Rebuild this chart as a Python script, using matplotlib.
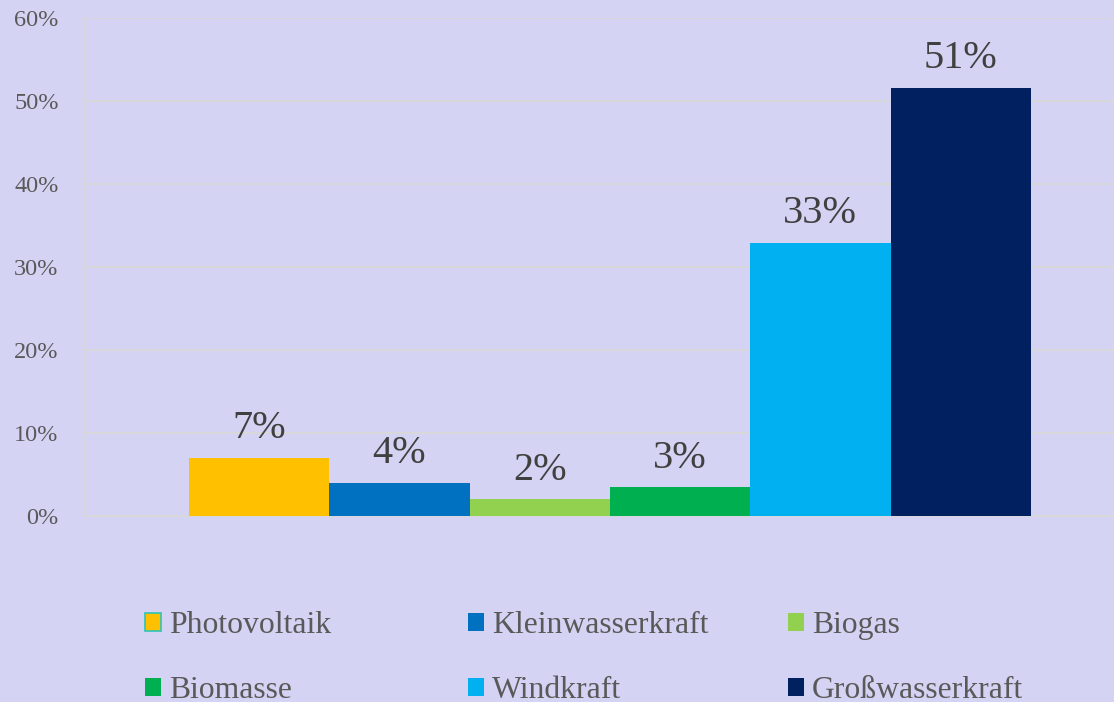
import matplotlib.pyplot as plt
from matplotlib.patches import Patch
from matplotlib.ticker import PercentFormatter

# data
categories = ['Photovoltaik', 'Kleinwasserkraft', 'Biogas',
              'Biomasse', 'Windkraft', 'Großwasserkraft']
shares = [7.0, 4.0, 2.0, 3.5, 32.9, 51.6]
labels = ['7%', '4%', '2%', '3%', '33%', '51%']
colors = ['#FFC000', '#0070C0', '#92D050', '#00B050', '#00B0F0', '#002060']
y_ticks = [0, 10, 20, 30, 40, 50, 60]

BG = '#D4D3F3'
GRID = '#D9D9D9'
FONT = 'Liberation Serif'

plt.rcParams['font.family'] = [FONT, 'DejaVu Serif']

W, H = 1114, 702
fig = plt.figure(figsize=(W / 100, H / 100), dpi=100, facecolor=BG)
ax = fig.add_axes([85 / W, (H - 516) / H, (W - 85) / W, (516 - 18) / H])
ax.set_facecolor(BG)

x = list(range(len(categories)))
bars = ax.bar(x, shares, width=1.0, color=colors, zorder=3, linewidth=0)

for b, lab in zip(bars, labels):
    ax.annotate(lab, (b.get_x() + b.get_width() / 2, b.get_height()),
                xytext=(0, 14), textcoords='offset points',
                ha='center', va='baseline', fontsize=29, color='#404040')

# px per bar ~140.3, first bar starts at x=189px
scale = 140.3
ax.set_xlim(-0.5 - (189 - 85) / scale, -0.5 + (W - 189) / scale)
ax.set_ylim(0, 60)
ax.set_yticks(y_ticks)
ax.yaxis.set_major_formatter(PercentFormatter(decimals=0))
ax.set_xticks([])
ax.tick_params(axis='y', length=0, pad=19, labelsize=17.5, labelcolor='#595959')
ax.grid(axis='y', color=GRID, linewidth=1.3, zorder=0)
for side in ['top', 'right']:
    ax.spines[side].set_visible(False)
for side in ['left', 'bottom']:
    ax.spines[side].set_color(GRID)
    ax.spines[side].set_linewidth(1.3)

# legend: three columns, filled row by row like the original
handles = [Patch(facecolor=c, edgecolor='none') for c in colors]
handles[0] = Patch(facecolor=colors[0], edgecolor='#2EC4B6', linewidth=1.2)
col_x = [145, 468, 788]
for i, cx in enumerate(col_x):
    fig.legend([handles[i], handles[i + 3]], [categories[i], categories[i + 3]],
               loc='upper left', bbox_to_anchor=(cx / W, (H - 611) / H),
               frameon=False, fontsize=22.8, labelcolor='#595959',
               handlelength=0.5, handleheight=0.5, handletextpad=0.25,
               labelspacing=1.15, borderpad=0, borderaxespad=0)

fig.savefig('out.png', dpi=100, facecolor=BG)
